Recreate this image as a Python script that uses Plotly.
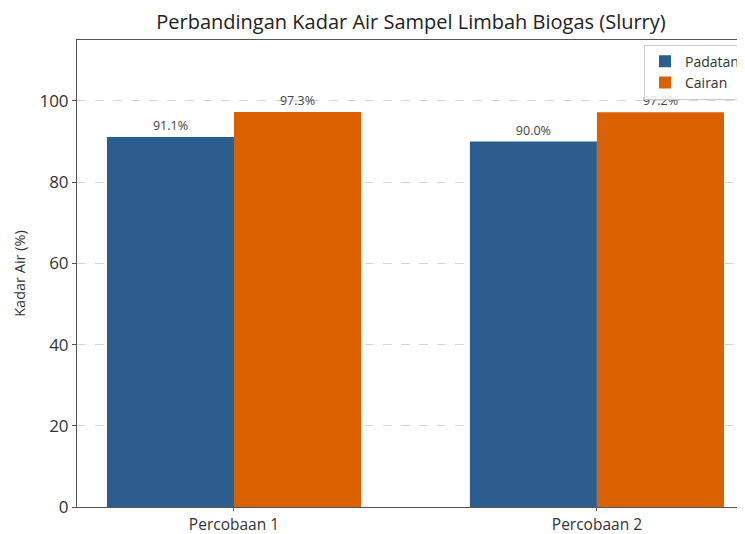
import plotly.graph_objects as go

categories = ["Percobaan 1", "Percobaan 2"]
padatan = [91.1, 90.0]
cairan = [97.3, 97.2]
series_names = ["Padatan", "Cairan"]
y_ticks = [0, 20, 40, 60, 80, 100]

xpos = list(range(len(categories)))
FONT = "Open Sans"
W, H = 737, 526  # page body adds 8px offset

fig = go.Figure()
fig.add_trace(go.Bar(
    x=xpos, y=padatan, name=series_names[0], marker_color="#2b5d8e",
    marker_line_width=0, text=[f"{v:.1f}%" for v in padatan],
    textposition="outside", textfont=dict(size=12.5, color="#444", family=FONT),
    cliponaxis=False,
))
fig.add_trace(go.Bar(
    x=xpos, y=cairan, name=series_names[1], marker_color="#db6000",
    marker_line_width=0, text=[f"{v:.1f}%" for v in cairan],
    textposition="outside", textfont=dict(size=12.5, color="#444", family=FONT),
    cliponaxis=False,
))

fig.update_layout(
    width=W, height=H,
    margin=dict(l=69, r=0, t=32, b=27, autoexpand=False),
    paper_bgcolor="white", plot_bgcolor="white",
    barmode="group", bargap=0.3, bargroupgap=0,
    font=dict(family=FONT, color="#333"),
    title=dict(text="Perbandingan Kadar Air Sampel Limbah Biogas (Slurry)",
               x=0.5, xref="paper", y=1 - 14 / H, yanchor="middle",
               font=dict(size=20, color="#222", family=FONT)),
    showlegend=True,
    legend=dict(x=1.0, y=0.99, xanchor="right", yanchor="top",
                bordercolor="#cccccc", borderwidth=1, bgcolor="rgba(255,255,255,0.85)",
                font=dict(size=14, color="#333", family=FONT),
                traceorder="normal", itemwidth=30, tracegroupgap=0),
)
fig.update_xaxes(
    range=[-0.4325, 1.408], tickvals=xpos, ticktext=categories,
    showline=True, linecolor="#555", linewidth=1, mirror=True,
    ticks="outside", ticklen=3, tickcolor="#555",
    tickfont=dict(size=15.5, color="#333", family=FONT),
    showgrid=False, zeroline=False, automargin=False,
)
fig.update_yaxes(
    range=[0, 115], tickvals=y_ticks,
    showline=True, linecolor="#555", linewidth=1,
    ticks="outside", ticklen=4, tickcolor="#555",
    tickfont=dict(size=17, color="#333", family=FONT),
    showgrid=True, gridcolor="#d5d5d5", griddash="dash", gridwidth=1,
    zeroline=False, automargin=False,
    title=dict(text="Kadar Air (%)", font=dict(size=14.5, color="#333", family=FONT), standoff=10),
)

fig.write_html("out.html")
